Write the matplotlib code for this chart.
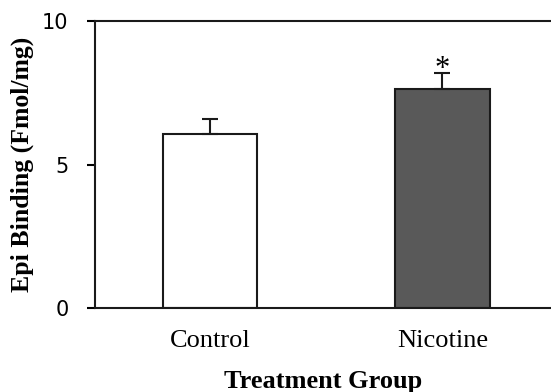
import numpy as np
import matplotlib.pyplot as plt

# data
groups = ["Control", "Nicotine"]
means = [6.06, 7.63]
errors = [0.53, 0.56]
colors = ["white", "#595959"]
sig_marks = ["", "*"]

fig = plt.figure(figsize=(5.51, 3.92), dpi=100)
ax = fig.add_axes([0.1724, 0.2143, 0.8276, 0.7321])

x = np.arange(len(groups))
ax.bar(x, means, width=0.405, color=colors, edgecolor="#1a1a1a", linewidth=1.5,
       zorder=2)
ax.errorbar(x, means, yerr=[np.zeros(len(errors)), errors], fmt="none",
            ecolor="#1a1a1a", elinewidth=1.5, capsize=6, capthick=1.5, zorder=3)

# significance mark sits just above the error cap
for xi, m, e, s in zip(x, means, errors, sig_marks):
    if s:
        ax.text(xi, m + e - 0.14, s, ha="center", va="baseline",
                fontsize=22, family="Liberation Serif")

ax.set_xlim(-0.495, 1.467)
ax.set_ylim(0, 10)
ax.set_yticks([0, 5, 10])
ax.set_xticks(x)
ax.set_xticklabels(groups, family="Liberation Serif", fontsize=19)
ax.tick_params(axis="x", length=0, pad=16)
ax.tick_params(axis="y", length=6, width=1.5, direction="out", labelsize=15,
               pad=13)

for side in ["left", "bottom", "top"]:
    ax.spines[side].set_linewidth(1.5)
    ax.spines[side].set_color("#1a1a1a")
ax.spines["right"].set_visible(False)

ax.set_ylabel("Epi Binding (Fmol/mg)", family="Liberation Serif",
              fontweight="bold", fontsize=18.5, labelpad=6)
ax.set_xlabel("Treatment Group", family="Liberation Serif",
              fontweight="bold", fontsize=19, labelpad=13)

fig.savefig("out.png", dpi=100)
